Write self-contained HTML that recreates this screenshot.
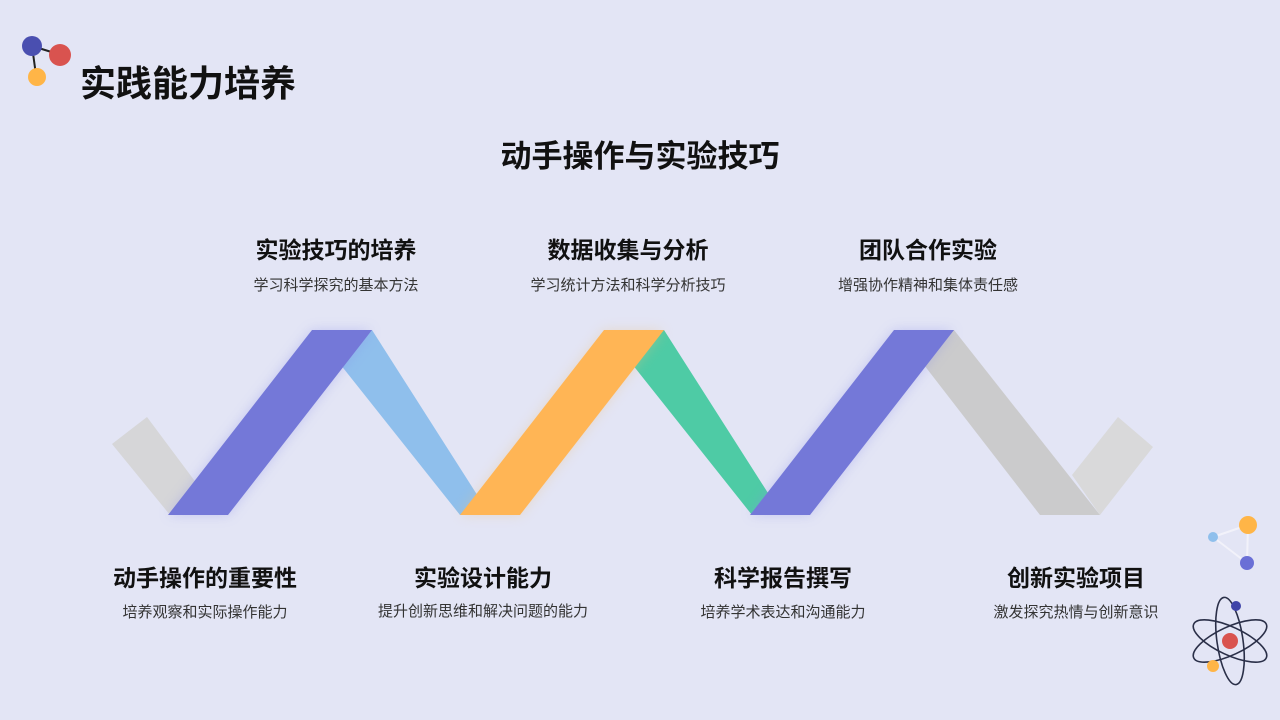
<!DOCTYPE html>
<html><head><meta charset="utf-8"><style>
body{margin:0;width:1280px;height:720px;background:#e3e5f5;overflow:hidden;position:relative;font-family:"Liberation Sans","Noto Sans CJK SC",sans-serif;color:#111}
.t{position:absolute;white-space:nowrap;transform:translateX(-50%);text-align:center}
.h{font-weight:700;font-size:23px}
.d{font-size:15px;color:#333}
</style></head><body>
<svg width="1280" height="720" style="position:absolute;left:0;top:0">
<defs><filter id="s" x="-20%" y="-20%" width="140%" height="140%"><feGaussianBlur stdDeviation="6"/></filter></defs>
<line x1="32" y1="46" x2="58" y2="54" stroke="#222" stroke-width="2"/>
<line x1="32" y1="46" x2="36" y2="75" stroke="#222" stroke-width="2"/>
<circle cx="32" cy="46" r="10" fill="#4a4fb0"/>
<circle cx="60" cy="55" r="11" fill="#d9534f"/>
<circle cx="37" cy="77" r="9" fill="#ffb547"/>
<polygon points="112,444 147,417 200,488 170,515" fill="#d6d6d8"/>
<polygon points="313,330 372,330 490,515 460,515" fill="#8fbfec"/>
<polygon points="605,330 664,330 782,515 752,515" fill="#4ecba5"/>
<polygon points="897,330 954,330 1100,515 1040,515" fill="#cbcbcc"/>
<polygon points="1072,475 1118,417 1153,447 1100,515" fill="#d9d9da"/>
<g opacity="0.35" filter="url(#s)"><polygon points="168,515 312,330 372,330 228,515" fill="#8a8ee8"/><polygon points="460,515 604,330 664,330 520,515" fill="#e8c080"/><polygon points="750,515 894,330 954,330 810,515" fill="#8a8ee8"/></g>
<polygon points="168,515 312,330 372,330 228,515" fill="#7478d8"/>
<polygon points="460,515 604,330 664,330 520,515" fill="#ffb555"/>
<polygon points="750,515 894,330 954,330 810,515" fill="#7478d8"/>
<g stroke="#f2f2fa" stroke-width="2"><line x1="1213" y1="537" x2="1248" y2="525"/><line x1="1213" y1="537" x2="1247" y2="563"/><line x1="1248" y1="525" x2="1247" y2="563"/></g>
<circle cx="1213" cy="537" r="5" fill="#8fbfec"/>
<circle cx="1248" cy="525" r="9" fill="#ffb547"/>
<circle cx="1247" cy="563" r="7" fill="#6a6fd6"/>
<g fill="none" stroke="#2a2f48" stroke-width="1.6">
<ellipse cx="1230" cy="641" rx="40" ry="14" transform="rotate(25 1230 641)"/>
<ellipse cx="1230" cy="641" rx="40" ry="14" transform="rotate(-25 1230 641)"/>
<ellipse cx="1230" cy="641" rx="13" ry="44" transform="rotate(-8 1230 641)"/>
</g>
<circle cx="1230" cy="641" r="8" fill="#d9534f"/>
<circle cx="1236" cy="606" r="5" fill="#3f44a8"/>
<circle cx="1213" cy="666" r="6" fill="#ffb547"/>
</svg>
<div style="position:absolute;left:80px;top:55px;font-size:36px;font-weight:700">实践能力培养</div>
<div class="t" style="left:640px;top:131px;font-size:31px;font-weight:700">动手操作与实验技巧</div>
<div class="t h" style="left:336px;top:231px">实验技巧的培养</div>
<div class="t d" style="left:336px;top:274px">学习科学探究的基本方法</div>
<div class="t h" style="left:628px;top:231px">数据收集与分析</div>
<div class="t d" style="left:628px;top:274px">学习统计方法和科学分析技巧</div>
<div class="t h" style="left:928px;top:231px">团队合作实验</div>
<div class="t d" style="left:928px;top:274px">增强协作精神和集体责任感</div>
<div class="t h" style="left:205px;top:559px">动手操作的重要性</div>
<div class="t d" style="left:205px;top:601px">培养观察和实际操作能力</div>
<div class="t h" style="left:483px;top:559px">实验设计能力</div>
<div class="t d" style="left:483px;top:600px">提升创新思维和解决问题的能力</div>
<div class="t h" style="left:783px;top:559px">科学报告撰写</div>
<div class="t d" style="left:783px;top:601px">培养学术表达和沟通能力</div>
<div class="t h" style="left:1076px;top:559px">创新实验项目</div>
<div class="t d" style="left:1076px;top:601px">激发探究热情与创新意识</div>
</body></html>
